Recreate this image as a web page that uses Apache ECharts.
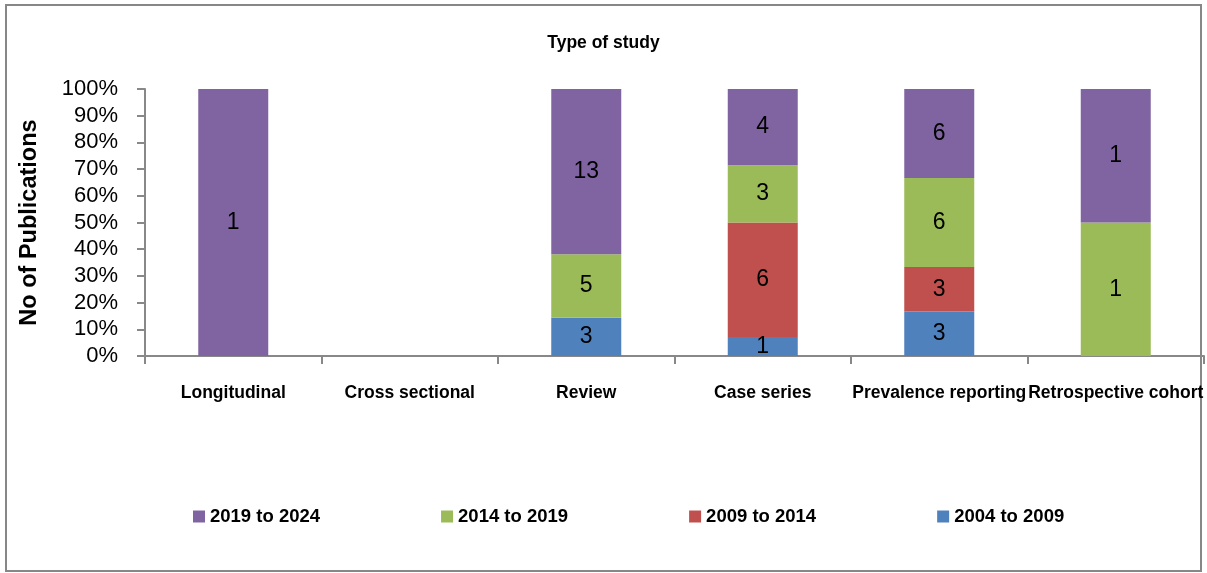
<!DOCTYPE html>
<html>
<head>
<meta charset="utf-8">
<script src="https://cdn.jsdelivr.net/npm/echarts@6/dist/echarts.min.js"></script>
<style>
  html, body { margin: 0; padding: 0; background: #fff; }
  #chart { width: 1207px; height: 573px; }
</style>
</head>
<body>
<div id="chart"></div>
<script>
// Study types along the x axis
const categories = ['Longitudinal', 'Cross sectional', 'Review', 'Case series', 'Prevalence reporting', 'Retrospective cohort'];

// Publication counts per period, one entry per study type
const p2004to2009 = [0, 0, 3, 1, 3, 0];
const p2009to2014 = [0, 0, 0, 6, 3, 0];
const p2014to2019 = [0, 0, 5, 3, 6, 1];
const p2019to2024 = [1, 0, 13, 4, 6, 1];

const yTicks = ['0%', '10%', '20%', '30%', '40%', '50%', '60%', '70%', '80%', '90%', '100%'];

const FONT = "'Liberation Sans', Arial, sans-serif";

const periods = [
  { name: '2004 to 2009', counts: p2004to2009, color: '#4F81BD' },
  { name: '2009 to 2014', counts: p2009to2014, color: '#C0504D' },
  { name: '2014 to 2019', counts: p2014to2019, color: '#9BBB59' },
  { name: '2019 to 2024', counts: p2019to2024, color: '#8064A2' }
];

// Column totals used to turn counts into 100% stacked shares
const totals = categories.map((_, i) => periods.reduce((s, p) => s + p.counts[i], 0));

const series = periods.map(p => ({
  name: p.name,
  type: 'bar',
  stack: 'all',
  barWidth: 70,
  itemStyle: { color: p.color },
  data: p.counts.map((c, i) => totals[i] ? c / totals[i] * 100 : 0),
  label: {
    show: true,
    position: 'inside',
    color: '#000',
    fontFamily: FONT,
    fontSize: 23,
    formatter: params => {
      const c = p.counts[params.dataIndex];
      return c ? String(c) : '';
    }
  }
}));

const chart = echarts.init(document.getElementById('chart'), null, { renderer: 'canvas' });
chart.setOption({
  animation: false,
  backgroundColor: '#fff',
  title: {
    text: 'Type of study',
    left: 'center',
    top: 29,
    textStyle: { fontFamily: FONT, fontSize: 17.5, fontWeight: 'bold', color: '#000' }
  },
  graphic: [{
    type: 'rect',
    shape: { x: 6, y: 5, width: 1195, height: 566 },
    style: { fill: 'none', stroke: '#878787', lineWidth: 2 },
    silent: true
  }],
  legend: {
    data: ['2019 to 2024', '2014 to 2019', '2009 to 2014', '2004 to 2009'],
    left: 188,
    top: 502,
    itemWidth: 12,
    itemHeight: 12,
    itemGap: 121,
    icon: 'rect',
    textStyle: { fontFamily: FONT, fontSize: 18.5, fontWeight: 'bold', color: '#000' }
  },
  grid: { left: 145, right: 3, top: 89, bottom: 217, containLabel: false },
  xAxis: {
    type: 'category',
    data: categories,
    axisLine: { lineStyle: { color: '#888', width: 2 } },
    axisTick: { show: true, length: 8, lineStyle: { color: '#888', width: 2 }, alignWithLabel: false },
    axisLabel: {
      interval: 0,
      hideOverlap: false,
      margin: 28,
      color: '#000',
      fontFamily: FONT,
      fontSize: 17.5,
      fontWeight: 'bold'
    }
  },
  yAxis: {
    type: 'value',
    min: 0,
    max: 100,
    interval: 10,
    name: 'No of Publications',
    nameLocation: 'middle',
    nameGap: 103,
    nameRotate: 90,
    nameTextStyle: { fontFamily: FONT, fontSize: 23.5, fontWeight: 'bold', color: '#000' },
    axisLine: { show: true, lineStyle: { color: '#888', width: 2 } },
    axisTick: { show: true, length: 8, lineStyle: { color: '#888', width: 2 } },
    splitLine: { show: false },
    axisLabel: {
      color: '#000',
      fontFamily: FONT,
      fontSize: 22,
      margin: 27,
      formatter: v => yTicks[Math.round(v / 10)]
    }
  },
  series: series
});
</script>
</body>
</html>
